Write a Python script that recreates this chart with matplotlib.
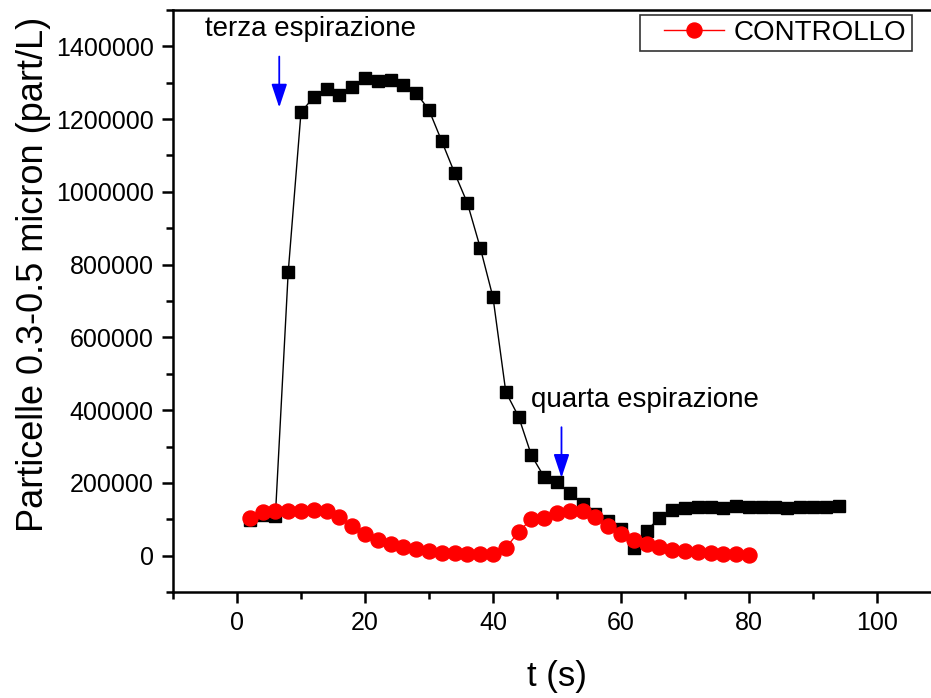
import matplotlib
matplotlib.use("Agg")
import matplotlib.pyplot as plt
from matplotlib.ticker import MultipleLocator, FuncFormatter
from matplotlib.legend_handler import HandlerLine2D

plt.rcParams['font.family'] = ['Liberation Sans', 'DejaVu Sans']

# Time (s) and particle counts 0.3-0.5 micron (part/L)
t_test = [2, 4, 6, 8, 10, 12, 14, 16, 18, 20, 22, 24, 26, 28, 30, 32, 34, 36, 38,
          40, 42, 44, 46, 48, 50, 52, 54, 56, 58, 60, 62, 64, 66, 68, 70, 72, 74,
          76, 78, 80, 82, 84, 86, 88, 90, 92, 94]
test_vals = [97000, 112000, 110000, 779000, 1219000, 1261000, 1284000, 1266000,
             1289000, 1313000, 1305000, 1308000, 1295000, 1272000, 1225000,
             1139000, 1052000, 969000, 847000, 710000, 450000, 382000, 276000,
             216000, 202000, 171000, 142000, 115000, 94000, 73000, 21000, 68000,
             104000, 126000, 132000, 134000, 134000, 132000, 137000, 135000,
             135000, 133000, 131000, 134000, 135000, 135000, 137000]

t_ctrl = [2, 4, 6, 8, 10, 12, 14, 16, 18, 20, 22, 24, 26, 28, 30, 32, 34, 36, 38,
          40, 42, 44, 46, 48, 50, 52, 54, 56, 58, 60, 62, 64, 66, 68, 70, 72, 74,
          76, 78, 80]
ctrl_vals = [104000, 119000, 122000, 123000, 124000, 126000, 123000, 105000,
             82000, 60000, 44000, 33000, 23000, 17000, 12000, 8500, 6500, 5000,
             4200, 3200, 21000, 65000, 101000, 104000, 117000, 122000, 124000,
             105000, 81000, 60000, 44000, 32000, 23000, 16500, 12000, 9000,
             6500, 4500, 3700, 2800]

ctrl_label = "CONTROLLO"
y_label = "Particelle 0.3-0.5 micron (part/L)"
x_label = "t (s)"
notes = [("terza espirazione", (-5.0, 1447000), 6.6, 1372000, 1232000),
         ("quarta espirazione", (46.0, 429000), 50.7, 353000, 214000)]

fig = plt.figure(figsize=(9.31, 6.98), dpi=100)
# the frame runs past the right edge of the canvas, so its right side is not seen
ax = fig.add_axes([173 / 931, 106 / 698, 768 / 931, 582 / 698])

ax.plot(t_test, test_vals, color='black', lw=1.0, marker='s', ms=9.2,
        markerfacecolor='black', markeredgecolor='black', zorder=3)
ax.plot(t_ctrl, ctrl_vals, color='red', lw=1.0, marker='o', ms=10.8,
        markerfacecolor='red', markeredgecolor='red', label=ctrl_label, zorder=4)

ax.set_xlim(-10, 110)
ax.set_ylim(-100000, 1500000)
ax.xaxis.set_major_locator(MultipleLocator(20))
ax.xaxis.set_minor_locator(MultipleLocator(10))
ax.yaxis.set_major_locator(MultipleLocator(200000))
ax.yaxis.set_minor_locator(MultipleLocator(100000))
ax.yaxis.set_major_formatter(FuncFormatter(lambda v, p: f"{int(round(v))}"))

for s in ['left', 'bottom', 'top', 'right']:
    ax.spines[s].set_linewidth(1.8)
ax.tick_params(which='major', direction='out', length=8, width=1.8,
               labelsize=18, pad=6)
ax.tick_params(which='minor', direction='out', length=5, width=1.8)
ax.tick_params(top=False, right=False)

ax.set_xlabel(x_label, fontsize=25, labelpad=18)
ax.set_ylabel(y_label, fontsize=26)
ax.yaxis.set_label_coords(-0.159, 0.545)

for text, pos, ax_x, y0, y1 in notes:
    ax.text(pos[0], pos[1], text, fontsize=20, ha='left', va='center')
    ax.annotate("", xy=(ax_x, y1), xytext=(ax_x, y0),
                arrowprops=dict(arrowstyle='-|>,head_length=0.9,head_width=0.3',
                                color='blue', lw=1.3, mutation_scale=16,
                                shrinkA=0, shrinkB=0))

leg = ax.legend(loc='upper left', bbox_to_anchor=(640 / 931, 1 - 15 / 698),
                bbox_transform=fig.transFigure, fontsize=20, frameon=True,
                fancybox=False, handlelength=2.85, handletextpad=0.35,
                borderpad=0.18, borderaxespad=0,
                handler_map={plt.Line2D: HandlerLine2D(xpad=0.7)})
leg.get_frame().set_edgecolor('black')
leg.get_frame().set_linewidth(1.2)

fig.savefig("out.png", dpi=100)
